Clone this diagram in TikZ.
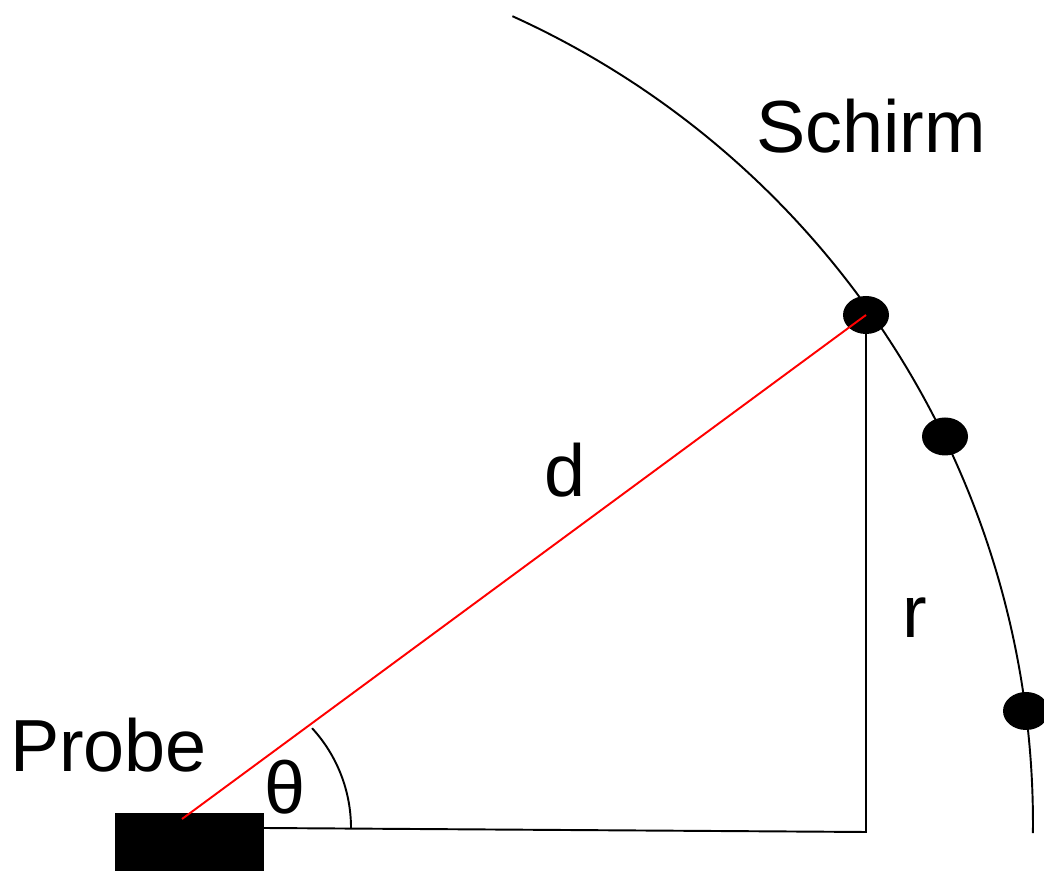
\documentclass[tikz,border=0pt]{standalone}
\usepackage{fontspec}
\setmainfont{Liberation Sans}
\usetikzlibrary{shapes.geometric}

\begin{document}
\begin{tikzpicture}[x=0.02cm,y=0.02cm,
   every node/.style={font=\fontsize{42}{50}\selectfont},
   dot/.style={ellipse,fill=black,inner sep=0pt,minimum width=0.92cm,minimum height=0.76cm},
   line/.style={line width=1.1pt}]
  \useasboundingbox (0,0) rectangle (1044,871);
  % screen
  \draw[line] (512.4,854.8) arc[start angle=65.6,end angle=-0.6,radius=887];
  \node[dot] (s1) at (866,556) {};
  \node[dot] (s2) at (945,434.5) {};
  \node[dot] (s3) at (1026,160) {};
  % sample
  \node[fill=black,inner sep=0pt,minimum width=2.98cm,minimum height=1.16cm] (probe) at (189.5,29) {};
  \coordinate (src) at (182,52);
  \coordinate (base) at (264,43);
  \coordinate (foot) at (866,39);
  \draw[line] (base) -- (foot) -- (s1.center);
  \draw[line] (351,43) arc[start angle=0,end angle=42.6,radius=147.5];
  \draw[line,red] (src) -- (s1.center);
  % labels
  \node[anchor=base] (schirm) at (871,718) {Schirm};
  \node[anchor=base] (probelbl) at (108.5,99) {Probe};
  \node[anchor=base] (d) at (565,374) {d};
  \node[anchor=base] (r) at (914.5,233) {r};
  \node[anchor=base] (theta) at (285.5,57) {θ};
\end{tikzpicture}
\end{document}
